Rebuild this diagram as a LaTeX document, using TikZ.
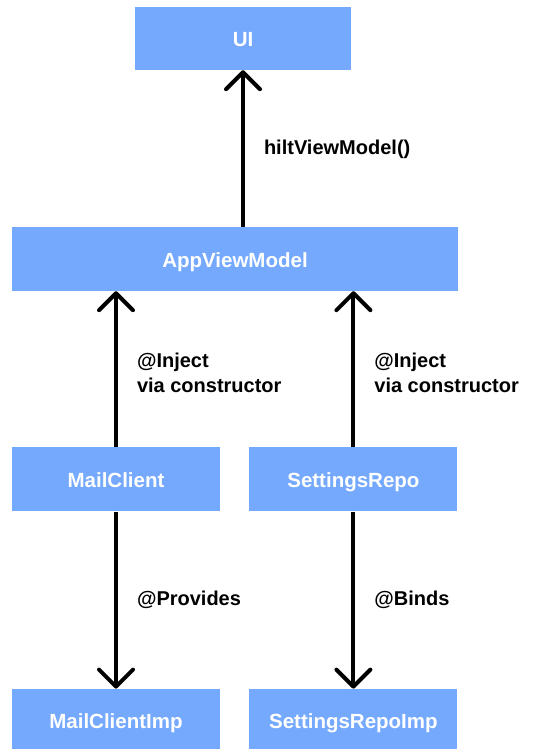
\documentclass[tikz,border=0pt]{standalone}
\usepackage{fontspec}
\setmainfont{Liberation Sans}
\usetikzlibrary{arrows.meta, positioning}
\usepackage{xcolor}
\definecolor{boxblue}{HTML}{75A9FE}

\begin{document}
\begin{tikzpicture}[
        x=1pt, y=-1pt,
        box/.style={fill=boxblue, draw=none, minimum height=64pt, inner sep=0pt, text height=17pt, text depth=1pt, align=center, text=white, font=\fontsize{20.5}{24}\selectfont\bfseries},
        smallbox/.style={box, minimum width=208pt},
        lbl/.style={inner sep=0pt, align=left, font=\fontsize{20}{25}\selectfont\bfseries},
        arrow/.style={-{Straight Barb[length=17pt, width=34pt, line cap=round, line join=round]}, line width=4pt}
    ]
    \useasboundingbox (0,0) rectangle (540,749);

    \node[box, minimum width=216pt, minimum height=63pt] (ui) at (243,38.5) {UI};
    \node[box, minimum width=446pt] (vm) at (235,259) {AppViewModel};

    \node[smallbox, below right=156pt and 0pt of vm.south west] (mail) {MailClient};
    \node[smallbox, right=29pt of mail] (repo) {SettingsRepo};
    \node[smallbox, below=177pt of mail] (mailimp) {MailClientImp};
    \node[smallbox, below=177pt of repo] (repoimp) {SettingsRepoImp};

    \draw[arrow] (vm.north -| ui.south) -- node[lbl, midway, right=19pt, yshift=-1pt] (hilt) {hiltViewModel()} (ui.south);
    \draw[arrow] (mail) -- node[lbl, midway, right=19pt, yshift=-4pt] (injmail) {@Inject\\via constructor} (mail |- vm.south);
    \draw[arrow] (repo) -- node[lbl, midway, right=19pt, yshift=-4pt] (injrepo) {@Inject\\via constructor} (repo |- vm.south);

    \draw[arrow] (mail) -- node[lbl, midway, right=19pt] (prov) {@Provides} (mailimp);
    \draw[arrow] (repo) -- node[lbl, midway, right=19pt] (bind) {@Binds} (repoimp);

\end{tikzpicture}
\end{document}
